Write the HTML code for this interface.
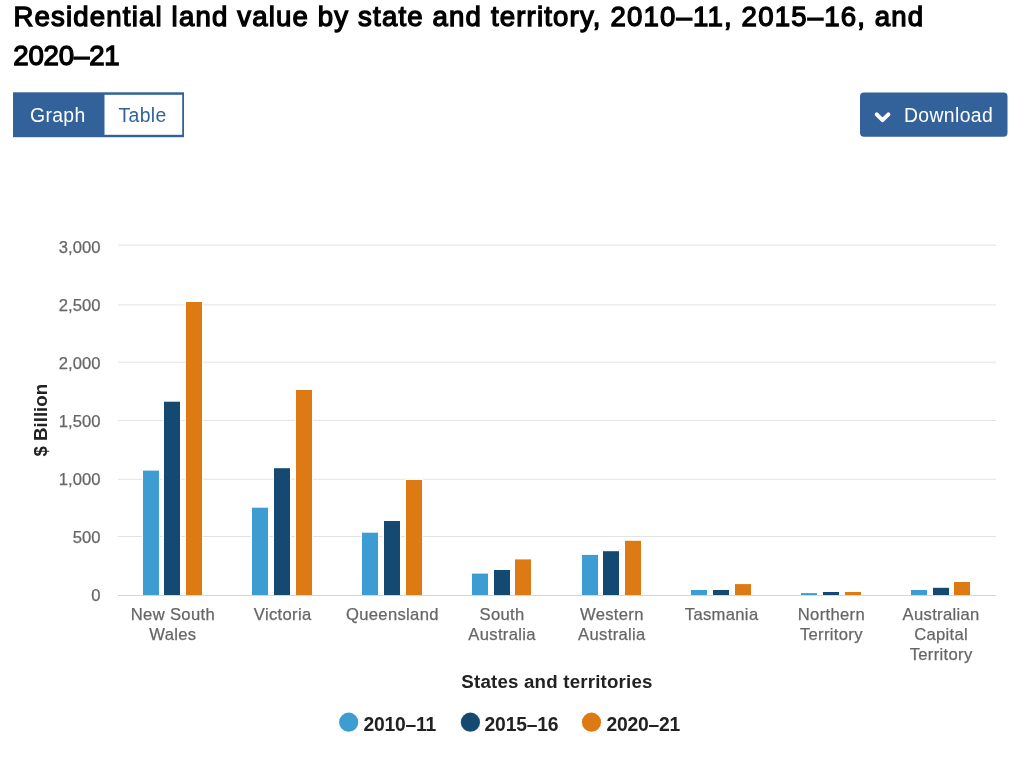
<!DOCTYPE html>
<html><head><meta charset="utf-8"><title>Residential land value by state and territory</title><style>
html,body{margin:0;padding:0;background:#fff;width:1024px;height:762px;overflow:hidden}
svg{position:absolute;left:0;top:0;will-change:transform;font-family:"Liberation Sans",Arial,sans-serif}
.t1{font-size:27.6px;font-weight:normal;fill:#000;stroke:#000;stroke-width:1.3px;letter-spacing:1.16px}
.t2{font-size:27.6px;font-weight:normal;fill:#000;stroke:#000;stroke-width:1.3px;letter-spacing:-0.15px}
.bg{font-size:19.4px;fill:#fff;letter-spacing:0.35px}
.bt{font-size:19.4px;fill:#33629b;letter-spacing:0.35px}
.yl{font-size:16.6px;fill:#666666;stroke:#666666;stroke-width:0.25px;letter-spacing:0.05px}
.xl{font-size:16.6px;fill:#666666;stroke:#666666;stroke-width:0.25px;letter-spacing:0.33px}
.at{font-size:18.7px;font-weight:bold;fill:#222222;letter-spacing:0.0px}
.lg{font-size:19.3px;font-weight:bold;fill:#222222;letter-spacing:-0.2px}
</style></head><body>
<svg width="1024" height="762" viewBox="0 0 1024 762">
<text x="13.50" y="26.20" class="t1">Residential land value by state and territory, 2010–11, 2015–16, and</text>
<text x="13.20" y="65.00" class="t2">2020–21</text>
<rect x="13" y="92.30" width="171" height="44.90" fill="#33629b"/>
<rect x="104.5" y="94.8" width="77.70" height="40.00" fill="#fff"/>
<text x="30.00" y="121.60" class="bg">Graph</text>
<text x="118.50" y="121.60" class="bt">Table</text>
<rect x="860.00" y="92.40" width="147.50" height="44.30" rx="4" fill="#33629b"/>
<path d="M876.7 114.4 l5.85 5.70 l5.85 -5.70" fill="none" stroke="#fff" stroke-width="4.0" stroke-linecap="round" stroke-linejoin="round"/>
<text x="904.00" y="121.70" class="bg">Download</text>
<line x1="118.0" x2="996.0" y1="536.50" y2="536.50" stroke="#e3e3e3" stroke-width="1"/>
<line x1="118.0" x2="996.0" y1="479.25" y2="479.25" stroke="#e3e3e3" stroke-width="1"/>
<line x1="118.0" x2="996.0" y1="420.50" y2="420.50" stroke="#e3e3e3" stroke-width="1"/>
<line x1="118.0" x2="996.0" y1="362.20" y2="362.20" stroke="#e3e3e3" stroke-width="1"/>
<line x1="118.0" x2="996.0" y1="304.90" y2="304.90" stroke="#e3e3e3" stroke-width="1"/>
<line x1="118.0" x2="996.0" y1="245.20" y2="245.20" stroke="#e3e3e3" stroke-width="1"/>
<rect x="142" y="469.60" width="18" height="125.40" fill="#fff"/>
<rect x="143" y="470.60" width="16" height="124.40" fill="#3d9dd3"/>
<rect x="163" y="400.70" width="18" height="194.30" fill="#fff"/>
<rect x="164" y="401.70" width="16" height="193.30" fill="#144a72"/>
<rect x="185" y="301.00" width="18" height="294.00" fill="#fff"/>
<rect x="186" y="302.00" width="16" height="293.00" fill="#de7a14"/>
<rect x="251" y="506.70" width="18" height="88.30" fill="#fff"/>
<rect x="252" y="507.70" width="16" height="87.30" fill="#3d9dd3"/>
<rect x="273" y="467.20" width="18" height="127.80" fill="#fff"/>
<rect x="274" y="468.20" width="16" height="126.80" fill="#144a72"/>
<rect x="295" y="389.00" width="18" height="206.00" fill="#fff"/>
<rect x="296" y="390.00" width="16" height="205.00" fill="#de7a14"/>
<rect x="361" y="531.70" width="18" height="63.30" fill="#fff"/>
<rect x="362" y="532.70" width="16" height="62.30" fill="#3d9dd3"/>
<rect x="383" y="520.00" width="18" height="75.00" fill="#fff"/>
<rect x="384" y="521.00" width="16" height="74.00" fill="#144a72"/>
<rect x="405" y="479.00" width="18" height="116.00" fill="#fff"/>
<rect x="406" y="480.00" width="16" height="115.00" fill="#de7a14"/>
<rect x="471" y="572.60" width="18" height="22.40" fill="#fff"/>
<rect x="472" y="573.60" width="16" height="21.40" fill="#3d9dd3"/>
<rect x="493" y="569.00" width="18" height="26.00" fill="#fff"/>
<rect x="494" y="570.00" width="16" height="25.00" fill="#144a72"/>
<rect x="514" y="558.40" width="18" height="36.60" fill="#fff"/>
<rect x="515" y="559.40" width="16" height="35.60" fill="#de7a14"/>
<rect x="581" y="553.90" width="18" height="41.10" fill="#fff"/>
<rect x="582" y="554.90" width="16" height="40.10" fill="#3d9dd3"/>
<rect x="602" y="550.20" width="18" height="44.80" fill="#fff"/>
<rect x="603" y="551.20" width="16" height="43.80" fill="#144a72"/>
<rect x="624" y="539.80" width="18" height="55.20" fill="#fff"/>
<rect x="625" y="540.80" width="16" height="54.20" fill="#de7a14"/>
<rect x="690" y="589.00" width="18" height="6.00" fill="#fff"/>
<rect x="691" y="590.00" width="16" height="5.00" fill="#3d9dd3"/>
<rect x="712" y="589.00" width="18" height="6.00" fill="#fff"/>
<rect x="713" y="590.00" width="16" height="5.00" fill="#144a72"/>
<rect x="734" y="583.10" width="18" height="11.90" fill="#fff"/>
<rect x="735" y="584.10" width="16" height="10.90" fill="#de7a14"/>
<rect x="800" y="592.10" width="18" height="2.90" fill="#fff"/>
<rect x="801" y="593.10" width="16" height="1.90" fill="#3d9dd3"/>
<rect x="822" y="591.00" width="18" height="4.00" fill="#fff"/>
<rect x="823" y="592.00" width="16" height="3.00" fill="#144a72"/>
<rect x="844" y="591.00" width="18" height="4.00" fill="#fff"/>
<rect x="845" y="592.00" width="16" height="3.00" fill="#de7a14"/>
<rect x="910" y="589.00" width="18" height="6.00" fill="#fff"/>
<rect x="911" y="590.00" width="16" height="5.00" fill="#3d9dd3"/>
<rect x="932" y="586.80" width="18" height="8.20" fill="#fff"/>
<rect x="933" y="587.80" width="16" height="7.20" fill="#144a72"/>
<rect x="953" y="581.00" width="18" height="14.00" fill="#fff"/>
<rect x="954" y="582.00" width="16" height="13.00" fill="#de7a14"/>
<line x1="118.0" x2="996.0" y1="595.5" y2="595.5" stroke="#ccd6eb" stroke-width="1"/>
<text x="100.50" y="601.30" text-anchor="end" class="yl">0</text>
<text x="100.50" y="543.18" text-anchor="end" class="yl">500</text>
<text x="100.50" y="485.06" text-anchor="end" class="yl">1,000</text>
<text x="100.50" y="426.94" text-anchor="end" class="yl">1,500</text>
<text x="100.50" y="368.82" text-anchor="end" class="yl">2,000</text>
<text x="100.50" y="310.70" text-anchor="end" class="yl">2,500</text>
<text x="100.50" y="252.58" text-anchor="end" class="yl">3,000</text>
<text x="172.88" y="620.10" text-anchor="middle" class="xl">New South</text>
<text x="172.88" y="639.80" text-anchor="middle" class="xl">Wales</text>
<text x="282.62" y="620.10" text-anchor="middle" class="xl">Victoria</text>
<text x="392.38" y="620.10" text-anchor="middle" class="xl">Queensland</text>
<text x="502.12" y="620.10" text-anchor="middle" class="xl">South</text>
<text x="502.12" y="639.80" text-anchor="middle" class="xl">Australia</text>
<text x="611.88" y="620.10" text-anchor="middle" class="xl">Western</text>
<text x="611.88" y="639.80" text-anchor="middle" class="xl">Australia</text>
<text x="721.62" y="620.10" text-anchor="middle" class="xl">Tasmania</text>
<text x="831.38" y="620.10" text-anchor="middle" class="xl">Northern</text>
<text x="831.38" y="639.80" text-anchor="middle" class="xl">Territory</text>
<text x="941.12" y="620.10" text-anchor="middle" class="xl">Australian</text>
<text x="941.12" y="639.80" text-anchor="middle" class="xl">Capital</text>
<text x="941.12" y="659.50" text-anchor="middle" class="xl">Territory</text>
<text transform="translate(46.5 420.2) rotate(-90)" text-anchor="middle" class="at">$ Billion</text>
<text x="557.00" y="688.00" text-anchor="middle" class="at" style="letter-spacing:0.2px">States and territories</text>
<circle cx="348.7" cy="722.2" r="9.6" fill="#3d9dd3"/>
<text x="363.40" y="730.50" class="lg">2010–11</text>
<circle cx="470.4" cy="722.2" r="9.6" fill="#144a72"/>
<text x="484.60" y="730.50" class="lg">2015–16</text>
<circle cx="591.5" cy="722.2" r="9.6" fill="#de7a14"/>
<text x="606.40" y="730.50" class="lg">2020–21</text>
</svg>
</body></html>
